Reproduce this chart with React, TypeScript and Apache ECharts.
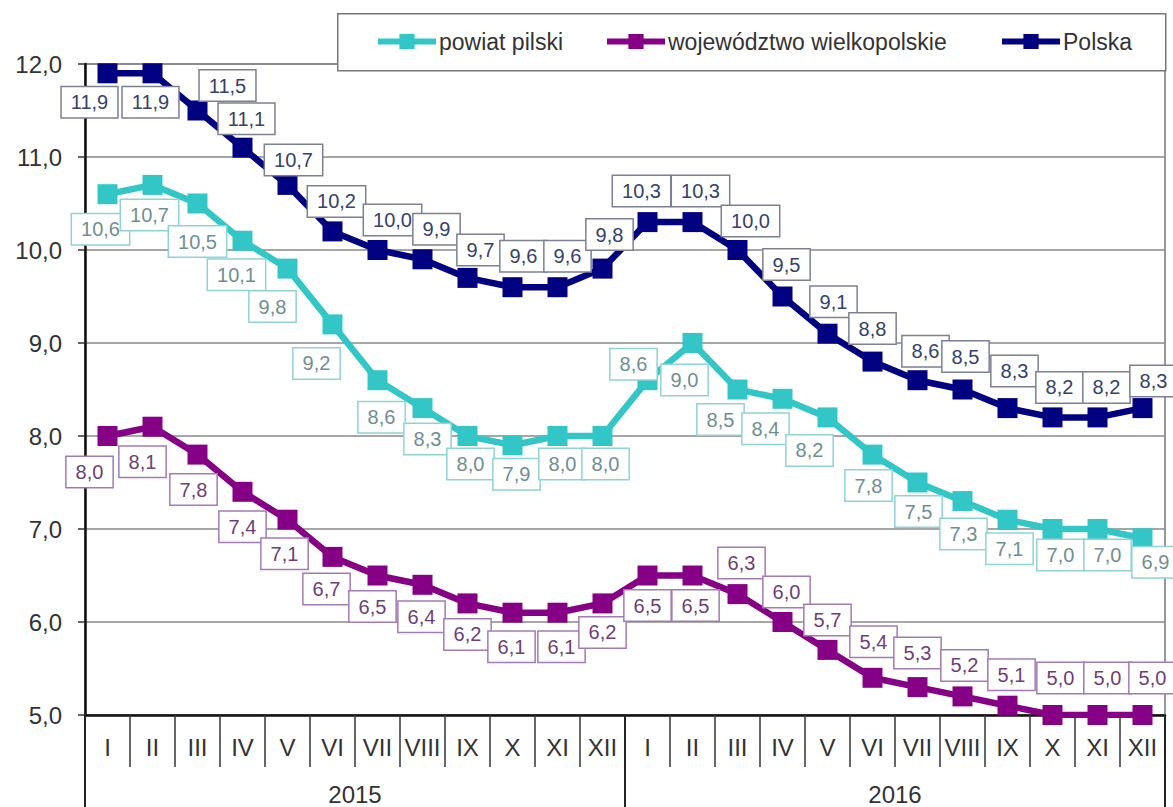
import React, { useEffect, useRef } from "react";
import * as echarts from "echarts";

const MONTHS = ["I", "II", "III", "IV", "V", "VI", "VII", "VIII", "IX", "X", "XI", "XII",
  "I", "II", "III", "IV", "V", "VI", "VII", "VIII", "IX", "X", "XI", "XII"];
const YEARS = ["2015", "2016"];

const POWIAT = [10.6, 10.7, 10.5, 10.1, 9.8, 9.2, 8.6, 8.3, 8.0, 7.9, 8.0, 8.0,
  8.6, 9.0, 8.5, 8.4, 8.2, 7.8, 7.5, 7.3, 7.1, 7.0, 7.0, 6.9];
const WOJEWODZTWO = [8.0, 8.1, 7.8, 7.4, 7.1, 6.7, 6.5, 6.4, 6.2, 6.1, 6.1, 6.2,
  6.5, 6.5, 6.3, 6.0, 5.7, 5.4, 5.3, 5.2, 5.1, 5.0, 5.0, 5.0];
const POLSKA = [11.9, 11.9, 11.5, 11.1, 10.7, 10.2, 10.0, 9.9, 9.7, 9.6, 9.6, 9.8,
  10.3, 10.3, 10.0, 9.5, 9.1, 8.8, 8.6, 8.5, 8.3, 8.2, 8.2, 8.3];

const SERIES_NAMES = ["powiat pilski", "województwo wielkopolskie", "Polska"];

// label box offsets (styling), relative to marker centre
const OFF_POWIAT = [[-7, 35], [-3, 30], [0, 38], [-6, 34], [-15, 38], [-16, 39], [4, 37], [5, 31], [3, 28], [4, 29], [5, 28], [3, 28],
  [-14, -16], [-8, 37], [-17, 30], [-17, 30], [-18, 33], [-4, 31], [1, 29], [1, 33], [2, 29], [8, 26], [10, 26], [13, 24]];
const OFF_WOJ = [[-18, 36], [-10, 35], [-4, 35], [0, 35], [-3, 34], [-6, 32], [-5, 31], [-1, 32], [0, 31], [-1, 34], [4, 34], [0, 29],
  [0, 30], [3, 30], [4, -31], [4, -30], [0, -30], [1, -36], [0, -34], [2, -31], [4, -31], [8, -37], [10, -37], [10, -37]];
const OFF_POL = [[-18, 29], [-2, 29], [30, -25], [4, -29], [6, -25], [4, -30], [15, -30], [14, -30], [13, -28], [11, -31], [10, -31], [7, -34],
  [-6, -31], [8, -31], [13, -29], [4, -32], [6, -32], [0, -33], [8, -29], [3, -33], [7, -37], [7, -30], [9, -30], [11, -27]];

const FONT = "Liberation Sans";
const fmt = (v: number) => v.toFixed(1).replace(".", ",");

function buildSeries(name: string, values: number[], offsets: number[][], color: string, labelColor: string, labelBorder: string) {
  return {
    name,
    type: "line",
    xAxisIndex: 0,
    yAxisIndex: 0,
    symbol: "rect",
    symbolSize: 20,
    showAllSymbol: true,
    lineStyle: { color, width: 6.5 },
    itemStyle: { color },
    data: values.map((v, i) => ({
      value: v,
      label: { offset: offsets[i] },
    })),
    label: {
      show: true,
      position: "inside",
      formatter: (p: any) => fmt(p.value),
      fontFamily: FONT,
      fontSize: 20,
      lineHeight: 23,
      color: labelColor,
      backgroundColor: "#ffffff",
      borderColor: labelBorder,
      borderWidth: 1.5,
      padding: [4, 9, 3, 9],
    },
    emphasis: { disabled: true },
    z: 3,
  };
}

export default function App() {
  const ref = useRef<HTMLDivElement>(null);
  useEffect(() => {
    if (!ref.current) return;
    const chart = echarts.init(ref.current, undefined, { renderer: "svg" });
    const legendBase = {
      itemWidth: 58,
      itemHeight: 19,
      itemGap: 0,
      padding: 0,
      top: 30,
      z: 10,
      lineStyle: { width: 6 },
      textStyle: { fontFamily: FONT, fontSize: 23, color: "#333", padding: [0, 0, 0, -2] },
    };
    chart.setOption({
      animation: false,
      backgroundColor: "#ffffff",
      textStyle: { fontFamily: FONT },
      grid: {
        left: 85,
        right: 8,
        top: 64,
        bottom: 92,
        show: true,
        borderColor: "#777",
        borderWidth: 1.5,
        backgroundColor: "transparent",
      },
      graphic: [
        {
          type: "rect",
          left: 337,
          top: 13,
          z: 5,
          shape: { width: 828, height: 57 },
          style: { fill: "#ffffff", stroke: "#777", lineWidth: 1.5 },
        },
      ],
      legend: [
        { ...legendBase, data: [SERIES_NAMES[0]], left: 375 },
        { ...legendBase, data: [SERIES_NAMES[1]], left: 604 },
        { ...legendBase, data: [SERIES_NAMES[2]], left: 999 },
      ],
      xAxis: [
        {
          type: "category",
          data: MONTHS,
          position: "bottom",
          boundaryGap: true,
          axisLine: { show: true, lineStyle: { color: "#111", width: 2.5 } },
          axisTick: { show: true, interval: 0, length: 52, lineStyle: { color: "#333", width: 1.5 } },
          axisLabel: { interval: 0, fontFamily: FONT, fontSize: 24, color: "#333", margin: 20 },
          splitLine: { show: false },
        },
        {
          type: "category",
          data: YEARS,
          position: "bottom",
          boundaryGap: true,
          axisLine: { show: false },
          axisTick: { show: true, interval: 0, length: 92, lineStyle: { color: "#222", width: 2 } },
          axisLabel: { interval: 0, fontFamily: FONT, fontSize: 24, color: "#333", margin: 67 },
          splitLine: { show: false },
        },
      ],
      yAxis: {
        type: "value",
        min: 5,
        max: 12,
        interval: 1,
        axisLine: { show: true, lineStyle: { color: "#111", width: 2.5 } },
        axisTick: { show: true, length: 7, lineStyle: { color: "#333", width: 1.5 } },
        axisLabel: { formatter: (v: number) => fmt(v), fontFamily: FONT, fontSize: 24, color: "#333", margin: 23 },
        splitLine: { show: true, lineStyle: { color: "#888", width: 1.5 } },
      },
      series: [
        buildSeries(SERIES_NAMES[0], POWIAT, OFF_POWIAT, "#33c6c6", "#6f8f8f", "#8fd3d3"),
        buildSeries(SERIES_NAMES[1], WOJEWODZTWO, OFF_WOJ, "#860086", "#6e3f74", "#a27bb4"),
        buildSeries(SERIES_NAMES[2], POLSKA, OFF_POL, "#000080", "#35426a", "#7d8090"),
      ],
    });
    return () => chart.dispose();
  }, []);
  return (
    <div
      ref={ref}
      style={{ position: "absolute", left: 0, top: 0, width: 1173, height: 807, background: "#fff" }}
    />
  );
}
